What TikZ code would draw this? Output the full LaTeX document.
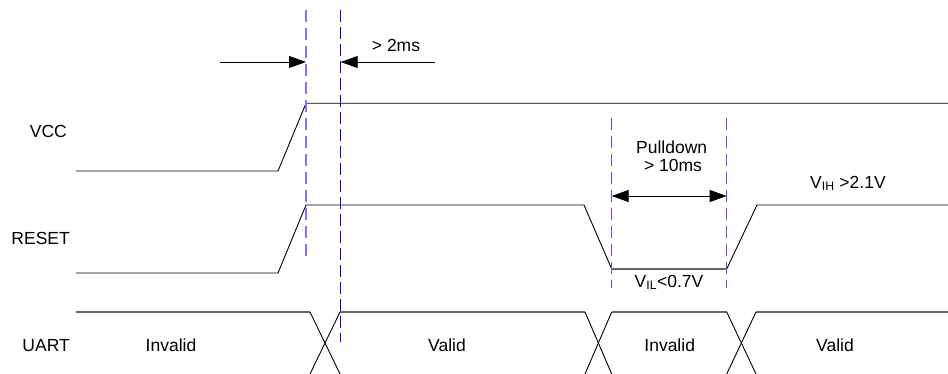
\documentclass[tikz,border=0pt]{standalone}
\usepackage{fontspec}
\setmainfont{Liberation Sans}
\usetikzlibrary{arrows.meta}
\definecolor{lightdash}{HTML}{7777FF}
\definecolor{darkdash}{HTML}{0000FF}
\definecolor{middash}{HTML}{5555FF}
\definecolor{sig}{HTML}{000000}
\definecolor{sigg}{HTML}{666666}
\tikzset{
  wave/.style={draw=sig, line width=0.9pt, line join=miter},
  wavegray/.style={draw=sigg, line width=1.4pt},
  guideA/.style={draw=lightdash, line width=1.8pt, dash pattern=on 12pt off 6pt},
  guideB/.style={draw=darkdash, line width=1pt, dash pattern=on 12pt off 5pt},
  guideC/.style={draw=middash, line width=1.3pt, dash pattern=on 12pt off 6pt},
  meas/.style={draw=black, line width=0.9pt},
  tip/.tip={Triangle[length=17pt,width=12pt]},
  lbl/.style={font=\fontsize{17.5}{20}\selectfont, inner sep=0pt, anchor=base},
  sig name/.style={font=\fontsize{17.5}{20}\selectfont, inner sep=0pt, anchor=base east},
}
\begin{document}
\begin{tikzpicture}[x=1pt,y=-1pt]
\useasboundingbox (0,0) rectangle (948,374);
% signal names
\node[sig name] (nvcc) at (67,137.3) {VCC};
\node[sig name] (nreset) at (70,244) {RESET};
\node[sig name] (nuart) at (70,351.7) {UART};
% VCC
\coordinate (v0) at (76,171);
\coordinate (v1) at (278,171);
\coordinate (v2) at (306,103.3);
\coordinate (v3) at (948,103.3);
\draw[wave] (v0) -- (v1) -- (v2) -- (v3);
% RESET
\coordinate (r0) at (76,273);
\coordinate (r1) at (278,273);
\coordinate (r2) at (306,205);
\coordinate (r3) at (584,205);
\coordinate (r4) at (611.7,269);
\coordinate (r5) at (726.7,269);
\coordinate (r6) at (757,205);
\coordinate (r7) at (948,205);
\draw[wave] (r0) -- (r1) -- (r2) -- (r3) -- (r4);
\draw[wavegray] (r4) -- (r5);
\draw[wave] (r5) -- (r6) -- (r7);
% UART
\coordinate (u0) at (76,312);
\coordinate (u1) at (310,312);
\coordinate (u2) at (340,312);
\coordinate (u1b) at (340,374);
\coordinate (u2b) at (310,374);
\coordinate (u3) at (585,312);
\coordinate (u4) at (611.7,312);
\coordinate (u3b) at (611.7,374);
\coordinate (u4b) at (585,374);
\coordinate (u5) at (726.7,312);
\coordinate (u6) at (756,312);
\coordinate (u5b) at (756,374);
\coordinate (u6b) at (726.7,374);
\coordinate (u7) at (948,312);
\draw[wavegray] (u0) -- (u1);
\draw[wavegray] (u2) -- (u3);
\draw[wavegray] (u4) -- (u5);
\draw[wavegray] (u6) -- (u7);
\draw[wave] (u1) -- (u1b);
\draw[wave] (u2) -- (u2b);
\draw[wave] (u3) -- (u3b);
\draw[wave] (u4) -- (u4b);
\draw[wave] (u5) -- (u5b);
\draw[wave] (u6) -- (u6b);
\node[lbl] (inv1) at (171,351.7) {Invalid};
\node[lbl] (val1) at (447,351.7) {Valid};
\node[lbl] (inv2) at (669.7,351.7) {Invalid};
\node[lbl] (val2) at (835,351.7) {Valid};
% guides
\coordinate (ga0) at (306,10);
\coordinate (ga1) at (306,260);
\coordinate (gb0) at (340.7,10);
\coordinate (gb1) at (340.7,342);
\coordinate (gc0) at (611.7,118);
\coordinate (gc1) at (611.7,288);
\coordinate (gd0) at (726.7,118);
\coordinate (gd1) at (726.7,288);
\draw[guideA] (ga0) -- (ga1);
\draw[guideB] (gb0) -- (gb1);
\draw[guideC] (gc0) -- (gc1);
\draw[guideC] (gd0) -- (gd1);
% 2ms measurement
\coordinate (a0) at (220,62);
\coordinate (a1) at (306,62);
\coordinate (b0) at (435,62);
\coordinate (b1) at (340.7,62);
\draw[meas,-tip] (a0) -- (a1);
\draw[meas,-tip] (b0) -- (b1);
\node[lbl] (t2ms) at (396,51.7) {> 2ms};
% pulldown measurement
\coordinate (p0) at (611.7,196);
\coordinate (p1) at (726.7,196);
\draw[meas,tip-tip] (p0) -- (p1);
\node[lbl] (tpd) at (671.7,153.3) {Pulldown};
\node[lbl] (t10) at (673,171.7) {> 10ms};
\node[lbl] (vil) at (669,287.3) {V\textsubscript{IL}<0.7V};
\node[lbl, anchor=base west] (vih) at (810,188.3) {V\textsubscript{IH} >2.1V};
\end{tikzpicture}
\end{document}
